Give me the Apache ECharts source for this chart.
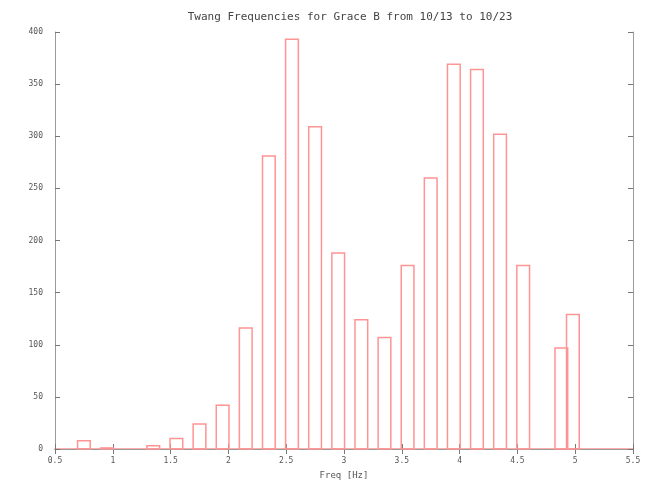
<!DOCTYPE html>
<html>
<head>
<meta charset="utf-8">
<script src="https://cdn.jsdelivr.net/npm/echarts@6/dist/echarts.min.js"></script>
<style>html,body{margin:0;padding:0;background:#fff}#c{width:652px;height:481px}</style>
</head>
<body>
<div id="c"></div>
<script>
const titleText = 'Twang Frequencies for Grace B from 10/13 to 10/23';
const xLabel = 'Freq [Hz]';
const freqs = [0.75, 0.95, 1.35, 1.55, 1.75, 1.95, 2.15, 2.35, 2.55, 2.75, 2.95, 3.15, 3.35, 3.55, 3.75, 3.95, 4.15, 4.35, 4.55, 4.88, 4.98];
const counts = [8, 1, 3, 10, 24, 42, 116, 281, 393, 309, 188, 124, 107, 176, 260, 369, 364, 302, 176, 97, 129];
const boxWidth = 0.11;

const data = freqs.map((f, i) => [f, counts[i]]);
const mono = 'DejaVu Sans Mono';
const chart = echarts.init(document.getElementById('c'));
const axisGray = '#9a9a9a';
const tickStyle = { show: true, inside: true, length: 5, lineStyle: { color: '#777', width: 1 } };

chart.setOption({
  animation: false,
  backgroundColor: '#fff',
  title: {
    text: titleText, left: 345, top: 7, textAlign: 'center',
    textStyle: { fontFamily: mono, fontSize: 11, fontWeight: 'normal', color: '#444' }
  },
  grid: { left: 55, top: 32, width: 578, height: 417, outerBoundsMode: 'none', containLabel: false },
  xAxis: [{
    type: 'value', min: 0.5, max: 5.5, interval: 0.5, position: 'bottom',
    name: xLabel, nameLocation: 'middle', nameGap: 22,
    nameTextStyle: { fontFamily: mono, fontSize: 9, color: '#555' },
    axisLine: { show: true, lineStyle: { color: '#ff9494', width: 1.5 } },
    axisTick: tickStyle,
    axisLabel: { fontFamily: mono, fontSize: 8, color: '#555', margin: 8 },
    splitLine: { show: false }
  }, {
    type: 'value', min: 0.5, max: 5.5, interval: 0.5, position: 'top',
    axisLine: { show: true, lineStyle: { color: axisGray, width: 1 } },
    axisTick: tickStyle, axisLabel: { show: false }, splitLine: { show: false }
  }],
  yAxis: [{
    type: 'value', min: 0, max: 400, interval: 50, position: 'left',
    axisLine: { show: true, lineStyle: { color: axisGray, width: 1 } },
    axisTick: tickStyle,
    axisLabel: { fontFamily: mono, fontSize: 8, color: '#555', margin: 12 },
    splitLine: { show: false }
  }, {
    type: 'value', min: 0, max: 400, interval: 50, position: 'right',
    axisLine: { show: true, lineStyle: { color: axisGray, width: 1 } },
    axisTick: tickStyle, axisLabel: { show: false }, splitLine: { show: false }
  }],
  series: [{
    type: 'custom',
    xAxisIndex: 0, yAxisIndex: 0,
    data: data,
    renderItem: function (params, api) {
      const x = api.value(0), y = api.value(1);
      const p0 = api.coord([x - boxWidth / 2, y]);
      const p1 = api.coord([x + boxWidth / 2, 0]);
      return {
        type: 'rect',
        shape: { x: p0[0], y: p0[1], width: p1[0] - p0[0], height: p1[1] - p0[1] },
        style: { fill: 'none', stroke: '#ff9494', lineWidth: 1.5 }
      };
    }
  }]
});
</script>
</body>
</html>
